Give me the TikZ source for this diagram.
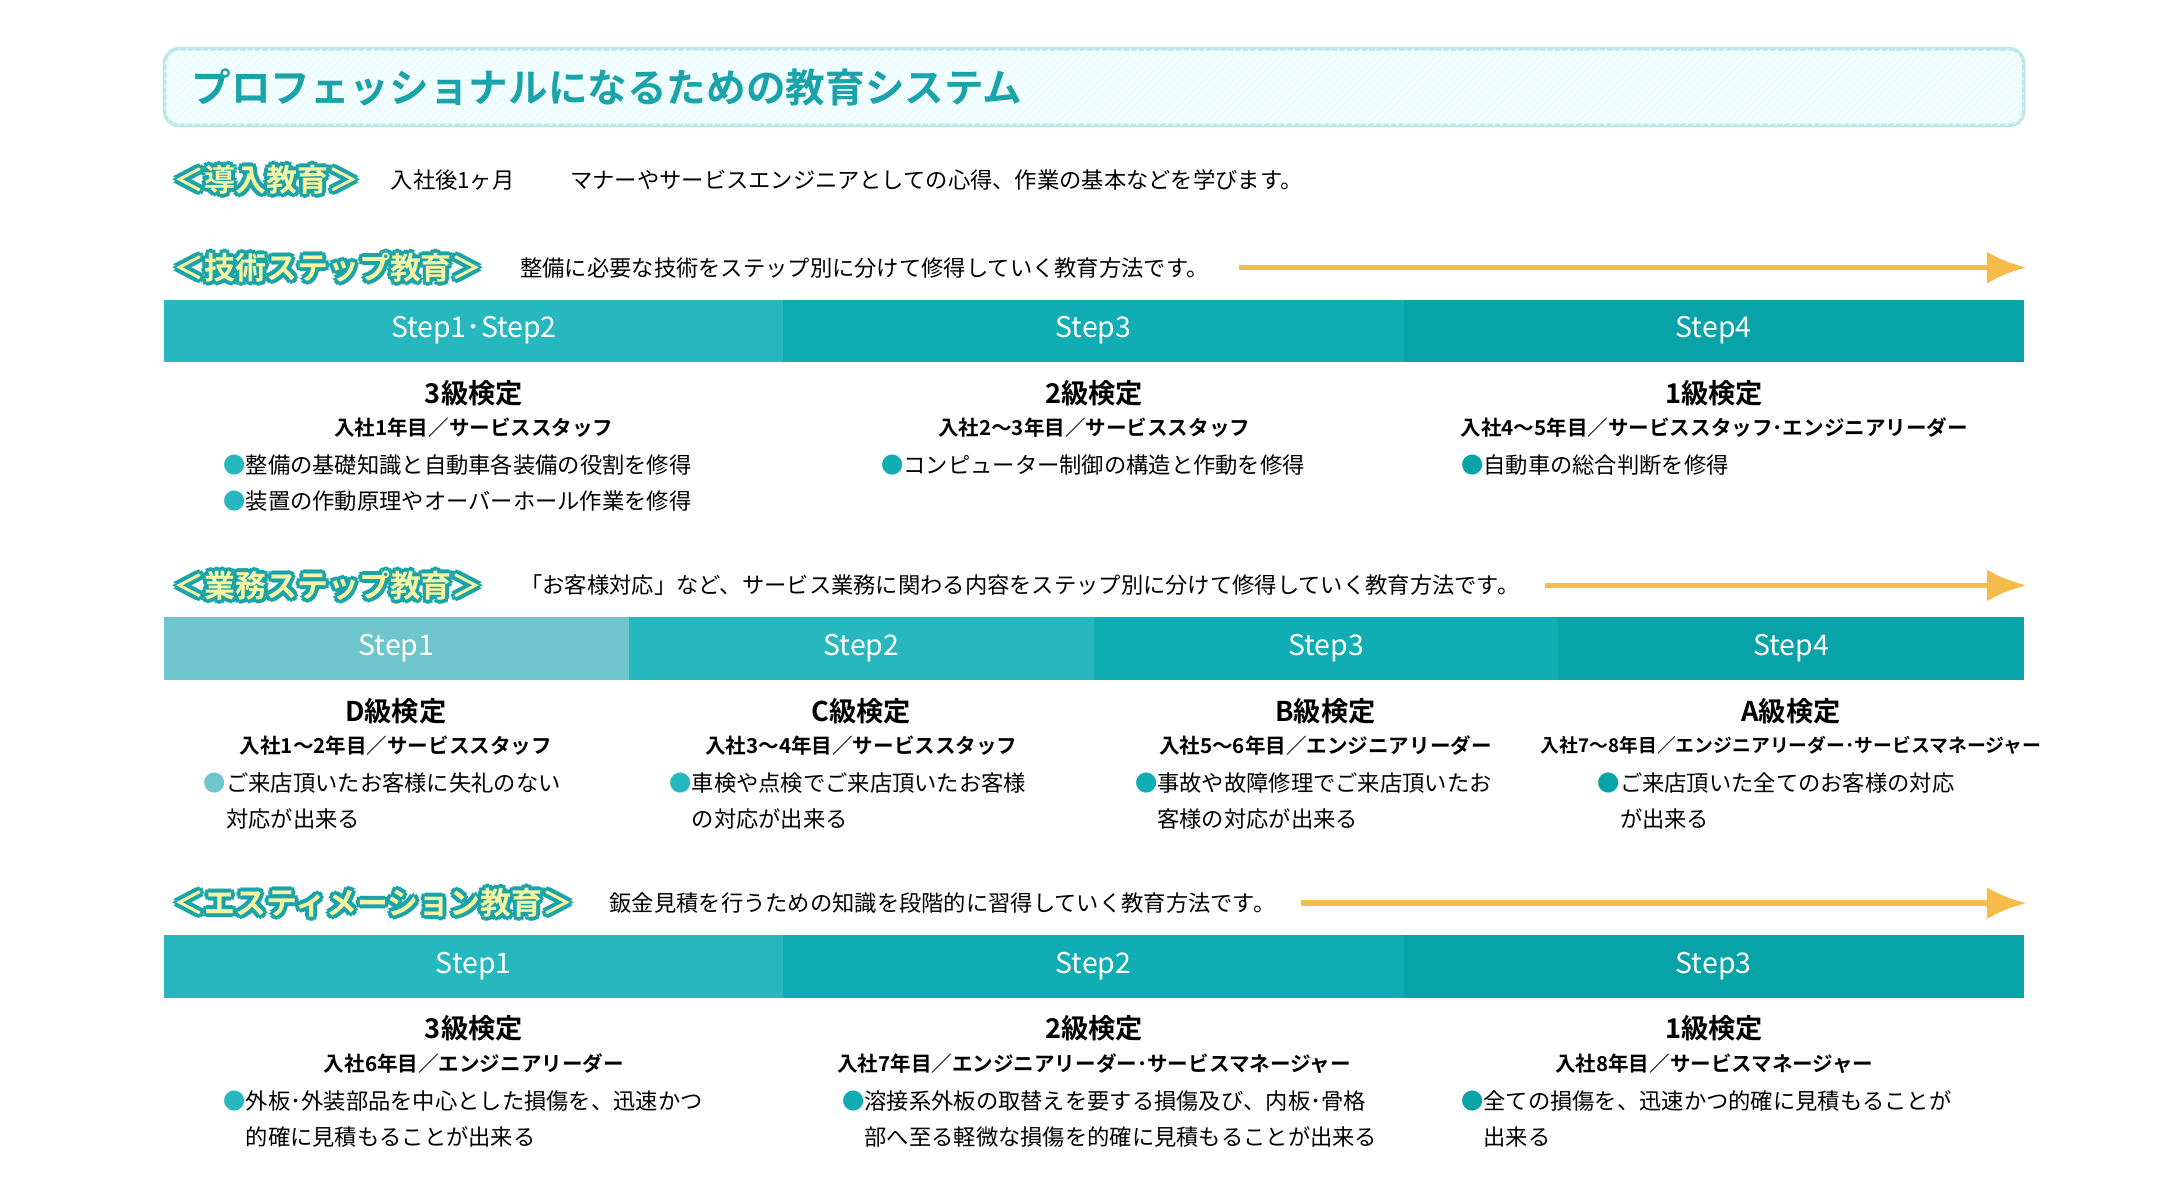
\documentclass[tikz,border=0pt]{standalone}
\usepackage{fontspec}
\setmainfont{Noto Sans CJK JP}
\newfontfamily\jpbold{Noto Sans CJK JP Bold}
\usetikzlibrary{positioning,patterns,arrows.meta}
\definecolor{teal1}{HTML}{6EC5CB}
\definecolor{teal2}{HTML}{26B8BE}
\definecolor{teal3}{HTML}{10ADB4}
\definecolor{teal4}{HTML}{08A3A9}
\definecolor{titleteal}{HTML}{1AA3A8}
\definecolor{arrowyel}{HTML}{F5BC4C}
\definecolor{labyel}{HTML}{F4F4A2}
\tikzset{
  stepbar/.style={text=white, font=\fontsize{11.5}{13}\selectfont, inner sep=0pt},
  grade/.style={font=\jpbold\fontsize{11}{13}\selectfont},
  period/.style={font=\jpbold\fontsize{8.3}{10}\selectfont},
  bullet/.style={anchor=north west, align=left, font=\fontsize{9}{14.5}\selectfont, inner sep=0pt},
  desc/.style={anchor=west, font=\fontsize{9}{11}\selectfont, inner sep=0pt},
  progress/.style={line width=2.2pt, arrowyel, -{Latex[length=16pt,width=13pt]}},
  outl/.style={anchor=west, inner sep=0pt, font=\jpbold\fontsize{12.5}{14}\selectfont}
}
% label with teal outline and pale yellow fill
\newcommand{\seclabel}[3]{%
  \foreach \dx/\dy in {-1.6/0,1.6/0,0/-1.6,0/1.6,-1.2/-1.2,1.2/1.2,-1.2/1.2,1.2/-1.2}
    \node[outl, text=titleteal] at ([xshift=\dx pt, yshift=\dy pt]#2) {#3};
  \node[outl, text=labyel] (#1) at (#2) {#3};}
\begin{document}
\begin{tikzpicture}[x=0.1978mm, y=-0.1978mm]
  \useasboundingbox (0,0) rectangle (1567,857.4);

  % title
  \draw[rounded corners=6pt, draw=teal1!45, line width=1.5pt, fill=cyan!4,
        postaction={pattern=north east lines, pattern color=cyan!12}]
    (118,35) rectangle (1452,90);
  \node[anchor=west, inner sep=0pt, text=titleteal, font=\jpbold\fontsize{16}{18}\selectfont] (title) at (137,63)
    {プロフェッショナルになるための教育システム};

  % intro
  \seclabel{intro}{124,129}{＜導入教育＞}
  \node[desc] (introtxt) at (280,129) {入社後1ヶ月\hspace{2.5em}マナーやサービスエンジニアとしての心得、作業の基本などを学びます。};

  % technical steps
  \seclabel{tech}{124,192}{＜技術ステップ教育＞}
  \node[desc] (techtxt) at (373,192) {整備に必要な技術をステップ別に分けて修得していく教育方法です。};
  \coordinate (techend) at (1454,192);
  \draw[progress] ([xshift=12pt]techtxt.east) -- (techend);
  \foreach \i/\xa/\xb/\col/\lab in {1/118/562/teal2/{Step1･Step2},2/562/1007/teal3/Step3,3/1007/1452/teal4/Step4}{
    \fill[\col] (\xa,215) rectangle (\xb,260);
    \node[stepbar] (tb\i) at ({(\xa+\xb)/2},237) {\lab};
  }
  \node[grade]  (tg1) at (340,282) {3級検定};
  \node[period] (tp1) at (340,307) {入社1年目／サービススタッフ};
  \node[bullet] (tt1) at (160,326) {\textcolor{teal2}{●}整備の基礎知識と自動車各装備の役割を修得\\\textcolor{teal2}{●}装置の作動原理やオーバーホール作業を修得};
  \node[grade]  (tg2) at (785,282) {2級検定};
  \node[period] (tp2) at (785,307) {入社2～3年目／サービススタッフ};
  \node[bullet] (tt2) at (632,326) {\textcolor{teal3}{●}コンピューター制御の構造と作動を修得};
  \node[grade]  (tg3) at (1230,282) {1級検定};
  \node[period] (tp3) at (1230,307) {入社4～5年目／サービススタッフ･エンジニアリーダー};
  \node[bullet] (tt3) at (1048,326) {\textcolor{teal4}{●}自動車の総合判断を修得};

  % business steps
  \seclabel{biz}{124,420}{＜業務ステップ教育＞}
  \node[desc] (biztxt) at (373,420) {「お客様対応」など、サービス業務に関わる内容をステップ別に分けて修得していく教育方法です。};
  \coordinate (bizend) at (1454,420);
  \draw[progress] ([xshift=10pt]biztxt.east) -- (bizend);
  \foreach \i/\xa/\xb/\col in {1/118/451/teal1,2/451/785/teal2,3/785/1118/teal3,4/1118/1452/teal4}{
    \fill[\col] (\xa,443) rectangle (\xb,488);
    \node[stepbar] (bb\i) at ({(\xa+\xb)/2},465) {Step\i};
  }
  \node[grade]  (bg1) at (284,510) {D級検定};
  \node[period] (bp1) at (284,535) {入社1～2年目／サービススタッフ};
  \node[bullet] (bt1) at (146,554) {\textcolor{teal1}{●}ご来店頂いたお客様に失礼のない\\\hspace{1em}対応が出来る};
  \node[grade]  (bg2) at (618,510) {C級検定};
  \node[period] (bp2) at (618,535) {入社3～4年目／サービススタッフ};
  \node[bullet] (bt2) at (480,554) {\textcolor{teal2}{●}車検や点検でご来店頂いたお客様\\\hspace{1em}の対応が出来る};
  \node[grade]  (bg3) at (951,510) {B級検定};
  \node[period] (bp3) at (951,535) {入社5～6年目／エンジニアリーダー};
  \node[bullet] (bt3) at (814,554) {\textcolor{teal3}{●}事故や故障修理でご来店頂いたお\\\hspace{1em}客様の対応が出来る};
  \node[grade]  (bg4) at (1285,510) {A級検定};
  \node[period, font=\jpbold\fontsize{7.6}{9}\selectfont] (bp4) at (1285,535) {入社7～8年目／エンジニアリーダー･サービスマネージャー};
  \node[bullet] (bt4) at (1146,554) {\textcolor{teal4}{●}ご来店頂いた全てのお客様の対応\\\hspace{1em}が出来る};

  % estimation
  \seclabel{est}{124,648}{＜エスティメーション教育＞}
  \node[desc] (esttxt) at (437,648) {鈑金見積を行うための知識を段階的に習得していく教育方法です。};
  \coordinate (estend) at (1454,648);
  \draw[progress] ([xshift=10pt]esttxt.east) -- (estend);
  \foreach \i/\xa/\xb/\col in {1/118/562/teal2,2/562/1007/teal3,3/1007/1452/teal4}{
    \fill[\col] (\xa,671) rectangle (\xb,716);
    \node[stepbar] (eb\i) at ({(\xa+\xb)/2},693) {Step\i};
  }
  \node[grade]  (eg1) at (340,738) {3級検定};
  \node[period] (ep1) at (340,763) {入社6年目／エンジニアリーダー};
  \node[bullet] (et1) at (160,782) {\textcolor{teal2}{●}外板･外装部品を中心とした損傷を、迅速かつ\\\hspace{1em}的確に見積もることが出来る};
  \node[grade]  (eg2) at (785,738) {2級検定};
  \node[period] (ep2) at (785,763) {入社7年目／エンジニアリーダー･サービスマネージャー};
  \node[bullet] (et2) at (604,782) {\textcolor{teal3}{●}溶接系外板の取替えを要する損傷及び、内板･骨格\\\hspace{1em}部へ至る軽微な損傷を的確に見積もることが出来る};
  \node[grade]  (eg3) at (1230,738) {1級検定};
  \node[period] (ep3) at (1230,763) {入社8年目／サービスマネージャー};
  \node[bullet] (et3) at (1048,782) {\textcolor{teal4}{●}全ての損傷を、迅速かつ的確に見積もることが\\\hspace{1em}出来る};
\end{tikzpicture}
\end{document}
